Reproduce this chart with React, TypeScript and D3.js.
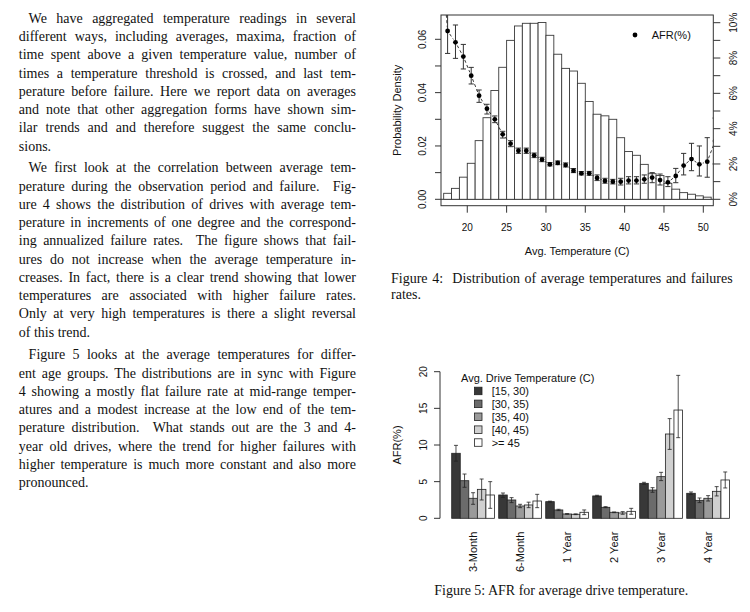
import React, { useEffect, useRef } from 'react';
import * as d3 from 'd3';

// ---------- Left column text ----------
const para1 = [
  'We have aggregated temperature readings in several',
  'different ways, including averages, maxima, fraction of',
  'time spent above a given temperature value, number of',
  'times a temperature threshold is crossed, and last tem-',
  'perature before failure. Here we report data on averages',
  'and note that other aggregation forms have shown sim-',
  'ilar trends and and therefore suggest the same conclu-',
  'sions.',
];
const para2 = [
  'We first look at the correlation between average tem-',
  'perature during the observation period and failure.  Fig-',
  'ure 4 shows the distribution of drives with average tem-',
  'perature in increments of one degree and the correspond-',
  'ing annualized failure rates.  The figure shows that fail-',
  'ures do not increase when the average temperature in-',
  'creases. In fact, there is a clear trend showing that lower',
  'temperatures are associated with higher failure rates.',
  'Only at very high temperatures is there a slight reversal',
  'of this trend.',
];
const para3 = [
  'Figure 5 looks at the average temperatures for differ-',
  'ent age groups. The distributions are in sync with Figure',
  '4 showing a mostly flat failure rate at mid-range temper-',
  'atures and a modest increase at the low end of the tem-',
  'perature distribution.  What stands out are the 3 and 4-',
  'year old drives, where the trend for higher failures with',
  'higher temperature is much more constant and also more',
  'pronounced.',
];
const caption4 = ['Figure 4:  Distribution of average temperatures and failures', 'rates.'];
const caption5 = 'Figure 5: AFR for average drive temperature.';

// ---------- Figure 4 data ----------
const histBinStart = [17, 18, 19, 20, 21, 22, 23, 24, 25, 26, 27, 28, 29, 30, 31, 32, 33, 34, 35, 36, 37, 38, 39, 40, 41, 42, 43, 44, 45, 46, 47, 48, 49, 50];
const histDensity = [0.00225, 0.0041, 0.0083, 0.0135, 0.022, 0.0306, 0.0408, 0.0495, 0.0596, 0.065, 0.066, 0.066, 0.0663, 0.0615, 0.0544, 0.0491, 0.0481, 0.0435, 0.0367, 0.0319, 0.0313, 0.030, 0.0231, 0.0179, 0.0165, 0.0131, 0.0096, 0.0089, 0.006, 0.0038, 0.0025, 0.0019, 0.0013, 0.0008];
const afrTemp = [16.5, 17.5, 18.5, 19.5, 20.5, 21.5, 22.5, 23.5, 24.5, 25.5, 26.5, 27.5, 28.5, 29.5, 30.5, 31.5, 32.5, 33.5, 34.5, 35.5, 36.5, 37.5, 38.5, 39.5, 40.5, 41.5, 42.5, 43.5, 44.5, 45.5, 46.5, 47.5, 48.5, 49.5, 50.5, 51.5];
const afrValue = [15.0, 9.53, 8.89, 8.08, 7.0, 5.87, 5.13, 4.53, 3.68, 3.15, 2.75, 2.75, 2.49, 2.25, 1.98, 2.06, 1.94, 1.62, 1.47, 1.47, 1.21, 1.04, 1.0, 1.0, 1.06, 1.06, 1.13, 1.23, 1.09, 0.96, 1.32, 1.91, 2.28, 1.98, 2.13, 3.3];
const afrLow = [12.0, 8.26, 7.98, 7.38, 6.53, 5.49, 4.83, 4.34, 3.47, 2.98, 2.6, 2.6, 2.36, 2.13, 1.89, 1.96, 1.83, 1.51, 1.38, 1.36, 1.06, 0.91, 0.87, 0.81, 0.87, 0.87, 0.91, 0.94, 0.81, 0.72, 0.94, 1.38, 1.62, 1.32, 1.25, 2.0];
const afrHigh = [18.0, 10.8, 9.87, 8.77, 7.47, 6.19, 5.38, 4.72, 3.85, 3.32, 2.9, 2.9, 2.62, 2.38, 2.08, 2.17, 2.06, 1.74, 1.57, 1.58, 1.38, 1.19, 1.13, 1.19, 1.28, 1.28, 1.38, 1.51, 1.43, 1.28, 1.75, 2.6, 3.17, 3.02, 3.49, 4.6];
const fig4XTicks = [20, 25, 30, 35, 40, 45, 50];
const fig4LeftTicks = [0, 0.01, 0.02, 0.03, 0.04, 0.05, 0.06];
const fig4LeftLabelTicks = [0, 0.02, 0.04, 0.06];
const fig4RightTicks = [0, 1, 2, 3, 4, 5, 6, 7, 8, 9, 10];
const fig4RightLabelTicks = [0, 2, 4, 6, 8, 10];

// ---------- Figure 5 data ----------
const ageGroups = ['3-Month', '6-Month', '1 Year', '2 Year', '3 Year', '4 Year'];
const tempRanges = ['[15, 30)', '[30, 35)', '[35, 40)', '[40, 45)', '>= 45'];
const rangeColors = ['#383838', '#6b6b6b', '#9a9a9a', '#d0d0d0', '#ffffff'];
const afr15to30 = [8.87, 3.18, 2.27, 3.05, 4.77, 3.41];
const afr15to30Lo = [7.8, 2.86, 2.2, 2.95, 4.64, 3.23];
const afr15to30Hi = [9.95, 3.45, 2.34, 3.14, 4.91, 3.59];
const afr30to35 = [5.13, 2.5, 1.14, 1.5, 3.86, 2.45];
const afr30to35Lo = [4.23, 2.14, 1.05, 1.45, 3.55, 2.14];
const afr30to35Hi = [6.04, 2.82, 1.23, 1.59, 4.18, 2.77];
const afr35to40 = [2.73, 1.68, 0.59, 0.82, 5.68, 2.73];
const afr35to40Lo = [1.91, 1.45, 0.55, 0.77, 5.14, 2.36];
const afr35to40Hi = [3.49, 1.91, 0.64, 0.86, 6.27, 3.09];
const afr40to45 = [3.95, 1.82, 0.55, 0.73, 11.5, 3.68];
const afr40to45Lo = [2.5, 1.45, 0.5, 0.55, 9.4, 3.05];
const afr40to45Hi = [5.36, 2.2, 0.6, 0.91, 13.6, 4.32];
const afr45up = [3.18, 2.36, 0.82, 0.95, 14.77, 5.23];
const afr45upLo = [1.36, 1.45, 0.5, 0.55, 11.0, 4.14];
const afr45upHi = [5.0, 3.27, 1.14, 1.36, 19.5, 6.32];
const fig5YTicks = [0, 5, 10, 15, 20];

const SERIF = '"Liberation Serif", "Times New Roman", serif';
const SANS = '"Liberation Sans", Arial, Helvetica, sans-serif';

export default function App() {
  const ref = useRef<SVGSVGElement>(null);

  useEffect(() => {
    if (!ref.current) return;
    d3.select(ref.current)
      .selectAll<SVGTextElement, unknown>('text.justify')
      .each(function () {
        const el = this;
        const target = parseFloat(el.getAttribute('data-w') || '0');
        el.setAttribute('word-spacing', '0');
        const nat = el.getComputedTextLength();
        const spaces = (el.textContent || '').split(' ').length - 1;
        if (spaces > 0) el.setAttribute('word-spacing', String((target - nat) / spaces));
      });
  }, []);

  // ---- left text layout ----
  const textLeft = 18.8;
  const textRight = 356;
  const indent = 9.8;
  const lineH = 18.27;
  const paras = [
    { lines: para1, y0: 22.7 },
    { lines: para2, y0: 172.3 },
    { lines: para3, y0: 359.3 },
  ];

  // ---- figure 4 scales ----
  const box4 = { left: 441, right: 713.3, top: 15, bottom: 205.7 };
  const x4 = d3.scaleLinear().domain([16.66, 51.27]).range([box4.left, box4.right]);
  const yL = d3.scaleLinear().domain([0, 0.06]).range([199.3, 39.3]);
  const yR = d3.scaleLinear().domain([0, 10]).range([199.3, 22.7]);
  const gap = 3.6;
  const segs: string[] = [];
  for (let i = 0; i < afrTemp.length - 1; i++) {
    const ax = x4(afrTemp[i]), ay = yR(afrValue[i]);
    const bx = x4(afrTemp[i + 1]), by = yR(afrValue[i + 1]);
    const len = Math.hypot(bx - ax, by - ay);
    if (len <= 2 * gap) continue;
    const ux = (bx - ax) / len, uy = (by - ay) / len;
    segs.push(`M${ax + ux * gap},${ay + uy * gap}L${bx - ux * gap},${by - uy * gap}`);
  }

  // ---- figure 5 scales ----
  const y5 = d3.scaleLinear().domain([0, 20]).range([518.3, 371.7]);
  const xg = d3.scaleBand<string>().domain(ageGroups).range([451.7, 729.5]).paddingInner(0.09).paddingOuter(0);
  const xb = d3.scaleBand<string>().domain(tempRanges).range([0, xg.bandwidth()]);
  const series = [
    { v: afr15to30, lo: afr15to30Lo, hi: afr15to30Hi },
    { v: afr30to35, lo: afr30to35Lo, hi: afr30to35Hi },
    { v: afr35to40, lo: afr35to40Lo, hi: afr35to40Hi },
    { v: afr40to45, lo: afr40to45Lo, hi: afr40to45Hi },
    { v: afr45up, lo: afr45upLo, hi: afr45upHi },
  ];

  return (
    <svg ref={ref} width={750} height={612} style={{ position: 'absolute', left: 0, top: 0, background: '#fff' }}>
      <rect x={0} y={0} width={750} height={612} fill="#fff" />
      {/* left text */}
      <g fontFamily={SERIF} fontSize={14} fill="#111">
        {paras.map((p, pi) =>
          p.lines.map((ln, li) => {
            const x = li === 0 ? textLeft + indent : textLeft;
            const last = li === p.lines.length - 1;
            return (
              <text
                key={`${pi}-${li}`}
                className={last ? undefined : 'justify'}
                data-w={textRight - x}
                x={x}
                y={p.y0 + li * lineH}
                style={{ whiteSpace: 'pre' }}
              >
                {ln}
              </text>
            );
          })
        )}
      </g>

      {/* ---------- Figure 4 ---------- */}
      <defs>
        <clipPath id="box4clip">
          <rect x={box4.left} y={box4.top} width={box4.right - box4.left} height={box4.bottom - box4.top} />
        </clipPath>
      </defs>
      <g clipPath="url(#box4clip)">
        <line x1={box4.left} x2={box4.right} y1={yL(0)} y2={yL(0)} stroke="#333" strokeWidth={1} />
        {histBinStart.map((b, i) => (
          <rect key={b} x={x4(b)} y={yL(histDensity[i])} width={x4(b + 1) - x4(b)} height={yL(0) - yL(histDensity[i])}
            fill="#fff" stroke="#3a3a3a" strokeWidth={0.9} />
        ))}
        {segs.map((d, i) => (
          <path key={i} d={d} fill="none" stroke="#222" strokeWidth={0.9} strokeDasharray="3,2.5" />
        ))}
        {afrTemp.map((t, i) => (
          <g key={t} stroke="#333" strokeWidth={1}>
            <line x1={x4(t)} x2={x4(t)} y1={yR(afrLow[i])} y2={yR(afrHigh[i])} />
            <line x1={x4(t) - 2.6} x2={x4(t) + 2.6} y1={yR(afrLow[i])} y2={yR(afrLow[i])} />
            <line x1={x4(t) - 2.6} x2={x4(t) + 2.6} y1={yR(afrHigh[i])} y2={yR(afrHigh[i])} />
          </g>
        ))}
        {afrTemp.map((t, i) => (
          <circle key={t} cx={x4(t)} cy={yR(afrValue[i])} r={2.4} fill="#000" />
        ))}
      </g>
      <rect x={box4.left} y={box4.top} width={box4.right - box4.left} height={box4.bottom - box4.top}
        fill="none" stroke="#333" strokeWidth={1} />
      <g fontFamily={SANS} fontSize={10} fill="#111" stroke="#333" strokeWidth={1}>
        {fig4XTicks.map((t) => (
          <g key={t}>
            <line x1={x4(t)} x2={x4(t)} y1={box4.bottom} y2={box4.bottom + 7} />
            <text x={x4(t)} y={230.7} textAnchor="middle" stroke="none">{t}</text>
          </g>
        ))}
        {fig4LeftTicks.map((t) => (
          <line key={t} x1={box4.left - 6} x2={box4.left} y1={yL(t)} y2={yL(t)} />
        ))}
        {fig4LeftLabelTicks.map((t) => (
          <text key={t} transform={`translate(426,${yL(t)}) rotate(-90)`} textAnchor="middle" stroke="none">
            {d3.format('.2f')(t)}
          </text>
        ))}
        {fig4RightTicks.map((t) => (
          <line key={t} x1={box4.right} x2={box4.right + 7} y1={yR(t)} y2={yR(t)} />
        ))}
        {fig4RightLabelTicks.map((t) => (
          <text key={t} transform={`translate(736.5,${yR(t)}) rotate(-90)`} textAnchor="middle" stroke="none">
            {`${t}%`}
          </text>
        ))}
      </g>
      <g fontFamily={SANS} fontSize={11} fill="#111">
        <text x={(box4.left + box4.right) / 2} y={255} textAnchor="middle">Avg. Temperature (C)</text>
        <text transform={`translate(400.5,${(box4.top + box4.bottom) / 2}) rotate(-90)`} textAnchor="middle">Probability Density</text>
        <circle cx={635} cy={35} r={2.4} fill="#000" />
        <text x={651.7} y={39}>AFR(%)</text>
      </g>
      <g fontFamily={SERIF} fontSize={14} fill="#111">
        <text className="justify" data-w={732.7 - 391} x={391} y={282.7} style={{ whiteSpace: 'pre' }}>{caption4[0]}</text>
        <text x={391} y={299} style={{ whiteSpace: 'pre' }}>{caption4[1]}</text>
      </g>

      {/* ---------- Figure 5 ---------- */}
      <g>
        {ageGroups.map((g, gi) => (
          <g key={g} transform={`translate(${xg(g)},0)`}>
            {series.map((s, si) => (
              <rect key={si} x={xb(tempRanges[si])} y={y5(s.v[gi])} width={xb.bandwidth()} height={y5(0) - y5(s.v[gi])}
                fill={rangeColors[si]} stroke="#222" strokeWidth={0.8} />
            ))}
            {series.map((s, si) => {
              const cx = (xb(tempRanges[si]) as number) + xb.bandwidth() / 2;
              return (
                <g key={`e${si}`} stroke="#222" strokeWidth={0.8}>
                  <line x1={cx} x2={cx} y1={y5(s.lo[gi])} y2={y5(s.hi[gi])} />
                  <line x1={cx - 2} x2={cx + 2} y1={y5(s.lo[gi])} y2={y5(s.lo[gi])} />
                  <line x1={cx - 2} x2={cx + 2} y1={y5(s.hi[gi])} y2={y5(s.hi[gi])} />
                </g>
              );
            })}
          </g>
        ))}
      </g>
      <g fontFamily={SANS} fontSize={10} fill="#111" stroke="#333" strokeWidth={1}>
        <line x1={440} x2={440} y1={y5(0)} y2={y5(20)} />
        {fig5YTicks.map((t) => (
          <g key={t}>
            <line x1={434} x2={440} y1={y5(t)} y2={y5(t)} />
            <text transform={`translate(426.5,${y5(t)}) rotate(-90)`} textAnchor="middle" stroke="none">{t}</text>
          </g>
        ))}
      </g>
      <g fontFamily={SANS} fontSize={11} fill="#111">
        <text transform={`translate(400.5,445) rotate(-90)`} textAnchor="middle">AFR(%)</text>
        {ageGroups.map((g) => (
          <text key={g} transform={`translate(${(xg(g) as number) + xg.bandwidth() / 2 + 4},531.7) rotate(-90)`} textAnchor="end">{g}</text>
        ))}
        <text x={461} y={382.3}>Avg. Drive Temperature (C)</text>
        {tempRanges.map((r, i) => {
          const cy = 391.2 + i * 12.9;
          return (
            <g key={r}>
              <rect x={474.5} y={cy - 4} width={7.5} height={7.5} fill={rangeColors[i]} stroke="#222" strokeWidth={0.8} />
              <text x={491.7} y={cy + 4}>{r}</text>
            </g>
          );
        })}
      </g>
      <text x={434.3} y={595} fontFamily={SERIF} fontSize={14} fill="#111">{caption5}</text>
    </svg>
  );
}
